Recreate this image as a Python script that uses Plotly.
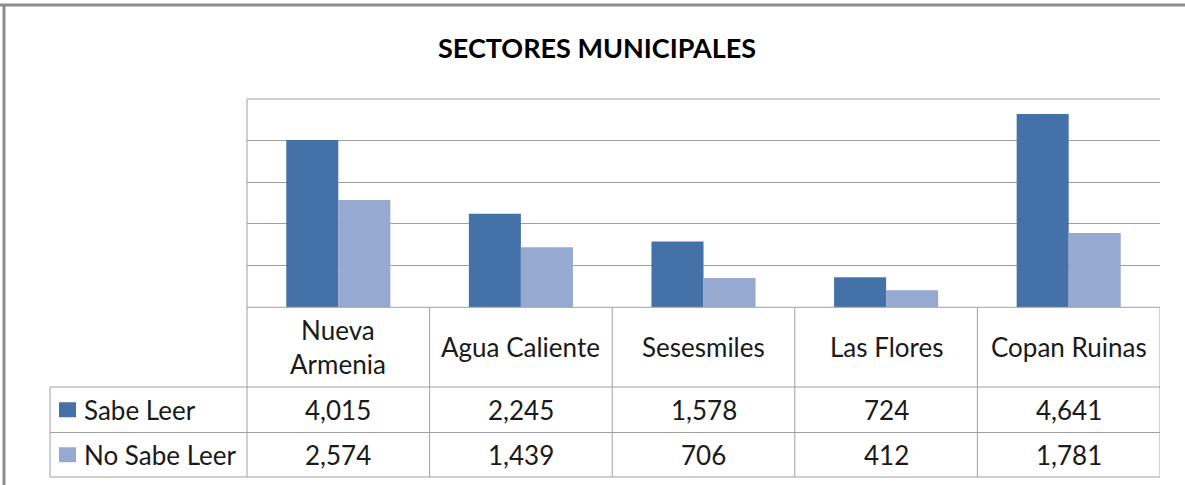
import plotly.graph_objects as go

# ---- data ----
categories = ["Nueva Armenia", "Agua Caliente", "Sesesmiles", "Las Flores", "Copan Ruinas"]
category_labels = ["Nueva<br>Armenia", "Agua Caliente", "Sesesmiles", "Las Flores", "Copan Ruinas"]
series_names = ["Sabe Leer", "No Sabe Leer"]
sabe_leer = [4015, 2245, 1578, 724, 4641]
no_sabe_leer = [2574, 1439, 706, 412, 1781]
title_text = "SECTORES MUNICIPALES"

# ---- styling ----
W, H = 1185, 485
colors = ["#4472A8", "#95A9D1"]
grid_col = "#A0A0A0"
border_col = "#8C8C8C"
FONT = "Lato"

def px(x):
    return x / W

def py(y):
    return 1 - y / H

plot_left, plot_right = 247, 1160
plot_top, plot_bottom = 99, 307.3
row_lines = [307.3, 387, 432.5, 477]
table_left = 50

fig = go.Figure()
for name, vals, c in zip(series_names, [sabe_leer, no_sabe_leer], colors):
    fig.add_trace(go.Bar(x=categories, y=vals, name=name, marker=dict(color=c, line=dict(width=0))))

shapes = []
line_style = dict(color=grid_col, width=1)
# outer chart border (top and left)
shapes.append(dict(type="line", xref="paper", yref="paper", x0=0, x1=1, y0=py(5), y1=py(5),
                   line=dict(color=border_col, width=3)))
shapes.append(dict(type="line", xref="paper", yref="paper", x0=px(4), x1=px(4), y0=py(5), y1=0,
                   line=dict(color=border_col, width=3)))
# left border of plot area extended through table
shapes.append(dict(type="line", xref="paper", yref="paper", x0=px(plot_left), x1=px(plot_left),
                   y0=py(plot_top), y1=py(row_lines[-1]), line=line_style))
# vertical column separators in table (category boundaries)
n = len(categories)
for i in range(1, n + 1):
    shapes.append(dict(type="line", xref="x", yref="paper", x0=i - 0.5, x1=i - 0.5,
                       y0=py(row_lines[0]), y1=py(row_lines[-1]), line=line_style))
# table left edge
shapes.append(dict(type="line", xref="paper", yref="paper", x0=px(table_left), x1=px(table_left),
                   y0=py(row_lines[1]), y1=py(row_lines[-1]), line=line_style))
# horizontal table lines
shapes.append(dict(type="line", xref="paper", yref="paper", x0=px(plot_left), x1=px(plot_right),
                   y0=py(row_lines[0]), y1=py(row_lines[0]), line=line_style))
for yl in row_lines[1:]:
    shapes.append(dict(type="line", xref="paper", yref="paper", x0=px(table_left), x1=px(plot_right),
                       y0=py(yl), y1=py(yl), line=line_style))
# top gridline of plot area
shapes.append(dict(type="line", xref="paper", yref="paper", x0=px(plot_left), x1=px(plot_right),
                   y0=py(plot_top), y1=py(plot_top), line=line_style))
# legend keys in table
row_centers = [(row_lines[1] + row_lines[2]) / 2, (row_lines[2] + row_lines[3]) / 2]
for c, yc in zip(colors, row_centers):
    shapes.append(dict(type="rect", xref="paper", yref="paper", x0=px(59), x1=px(76),
                       y0=py(yc + 7.5), y1=py(yc - 7.5), line=dict(width=0), fillcolor=c))

annotations = []
annotations.append(dict(text=title_text, xref="paper", yref="paper", x=px(597), y=py(48),
                        showarrow=False, xanchor="center", yanchor="middle",
                        font=dict(family=FONT, size=27, color="#000000", weight="bold")))
header_center = (row_lines[0] + row_lines[1]) / 2
tfont = dict(family=FONT, size=26, color="#1a1a1a")
for cat, lab in zip(categories, category_labels):
    annotations.append(dict(text=lab, xref="x", yref="paper", x=cat, y=py(header_center),
                            showarrow=False, xanchor="center", yanchor="middle", font=tfont))
for name, vals, yc in zip(series_names, [sabe_leer, no_sabe_leer], row_centers):
    annotations.append(dict(text=name, xref="paper", yref="paper", x=px(82), y=py(yc),
                            showarrow=False, xanchor="left", yanchor="middle", font=tfont))
    for cat, v in zip(categories, vals):
        annotations.append(dict(text=f"{v:,}", xref="x", yref="paper", x=cat, y=py(yc),
                                showarrow=False, xanchor="center", yanchor="middle", font=tfont))

fig.update_layout(
    width=W, height=H,
    margin=dict(l=0, r=0, t=0, b=0),
    paper_bgcolor="white", plot_bgcolor="white",
    showlegend=False,
    barmode="group", bargap=0.43, bargroupgap=0,
    xaxis=dict(domain=[px(plot_left), px(plot_right)], range=[-0.5, n - 0.5],
               showticklabels=False, ticks="", showgrid=False, showline=False, zeroline=False),
    yaxis=dict(domain=[py(plot_bottom), py(plot_top)], range=[0, 5000], dtick=1000,
               showticklabels=False, ticks="", showgrid=True, gridcolor=grid_col, gridwidth=1,
               zeroline=False, showline=False),
    shapes=shapes,
    annotations=annotations,
)

fig.write_html("out.html", config={"displayModeBar": False},
               post_script="document.body.style.margin='0';document.body.style.overflow='hidden';")
